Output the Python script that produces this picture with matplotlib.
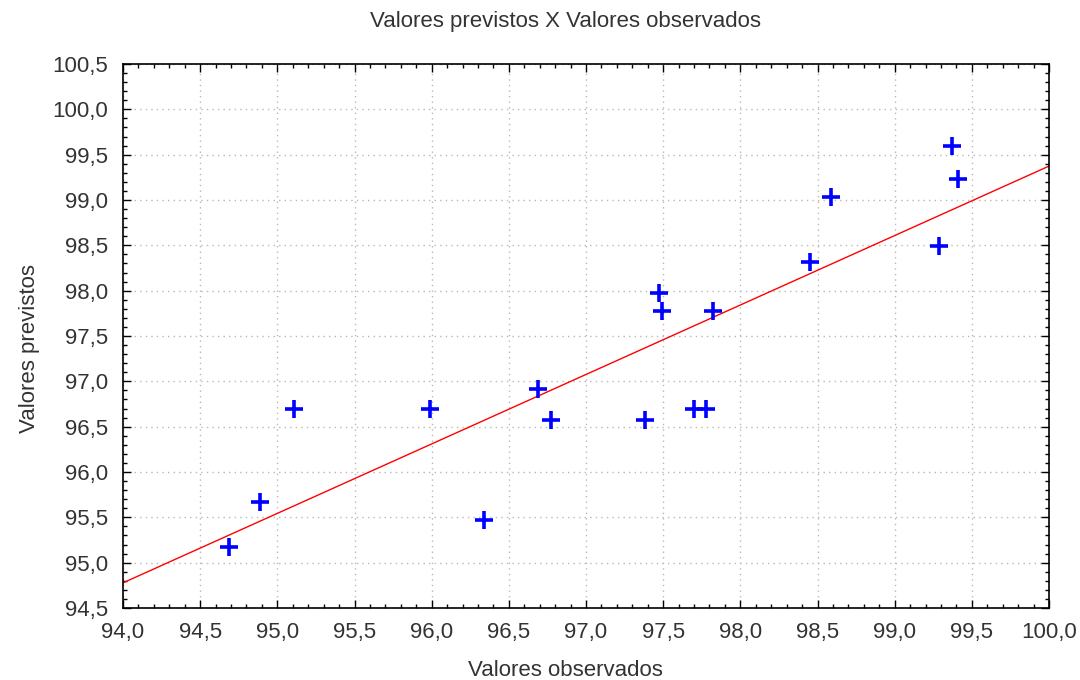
import numpy as np
import matplotlib
matplotlib.use("Agg")
import matplotlib.pyplot as plt
from matplotlib.ticker import MultipleLocator, FuncFormatter

plt.rcParams['font.family'] = ['Liberation Sans', 'DejaVu Sans']

observados = [94.69, 94.89, 95.11, 95.99, 96.34, 96.69, 96.77, 97.38, 97.47, 97.49,
              97.70, 97.78, 97.82, 98.45, 98.59, 99.29, 99.37, 99.41]
previstos = [95.17, 95.67, 96.70, 96.70, 95.47, 96.92, 96.57, 96.57, 97.97, 97.78,
             96.70, 96.70, 97.78, 98.32, 99.03, 98.49, 99.60, 99.23]

title = "Valores previstos X Valores observados"
xlabel = "Valores observados"
ylabel = "Valores previstos"

fig = plt.figure(figsize=(10.8, 6.8), dpi=100)
ax = fig.add_axes([123/1080, 1-608/680, (1049-123)/1080, (608-64)/680])

x = np.array(observados)
y = np.array(previstos)
slope, intercept = np.polyfit(x, y, 1)
xl = np.array([94.0, 100.0])
ax.plot(xl, intercept + slope*xl, color='#ff0000', lw=1.0, zorder=2)
ax.plot(x, y, linestyle='none', marker='+', color='#0000ff', markersize=13, mew=2.6, zorder=3)

ax.set_xlim(94.0, 100.0)
ax.set_ylim(94.5, 100.5)
ax.xaxis.set_major_locator(MultipleLocator(0.5))
ax.yaxis.set_major_locator(MultipleLocator(0.5))
ax.xaxis.set_minor_locator(MultipleLocator(0.1))
ax.yaxis.set_minor_locator(MultipleLocator(0.1))
fmt = FuncFormatter(lambda v, p: f"{v:.1f}".replace('.', ','))
ax.xaxis.set_major_formatter(fmt)
ax.yaxis.set_major_formatter(fmt)
ax.tick_params(which='both', direction='in', top=True, right=True, colors='black',
               labelcolor='#333333', labelsize=16, width=1)
ax.tick_params(which='major', length=6)
ax.tick_params(axis='x', which='major', pad=10)
ax.tick_params(axis='y', which='major', pad=11)
ax.tick_params(which='minor', length=3)
ax.grid(True, which='major', color='#b8b8b8', linestyle=(0, (1, 3)), linewidth=1)
for s in ax.spines.values():
    s.set_linewidth(1.2)

fig.text(565/1080, 1-22/680, title, ha='center', va='center', fontsize=16, color='#333333')
fig.text(565/1080, 1-670/680, xlabel, ha='center', va='center', fontsize=16, color='#333333')
fig.text(30/1080, 1-349/680, ylabel, ha='center', va='center', rotation=90, fontsize=16, color='#333333')

fig.savefig('out.png', dpi=100)
